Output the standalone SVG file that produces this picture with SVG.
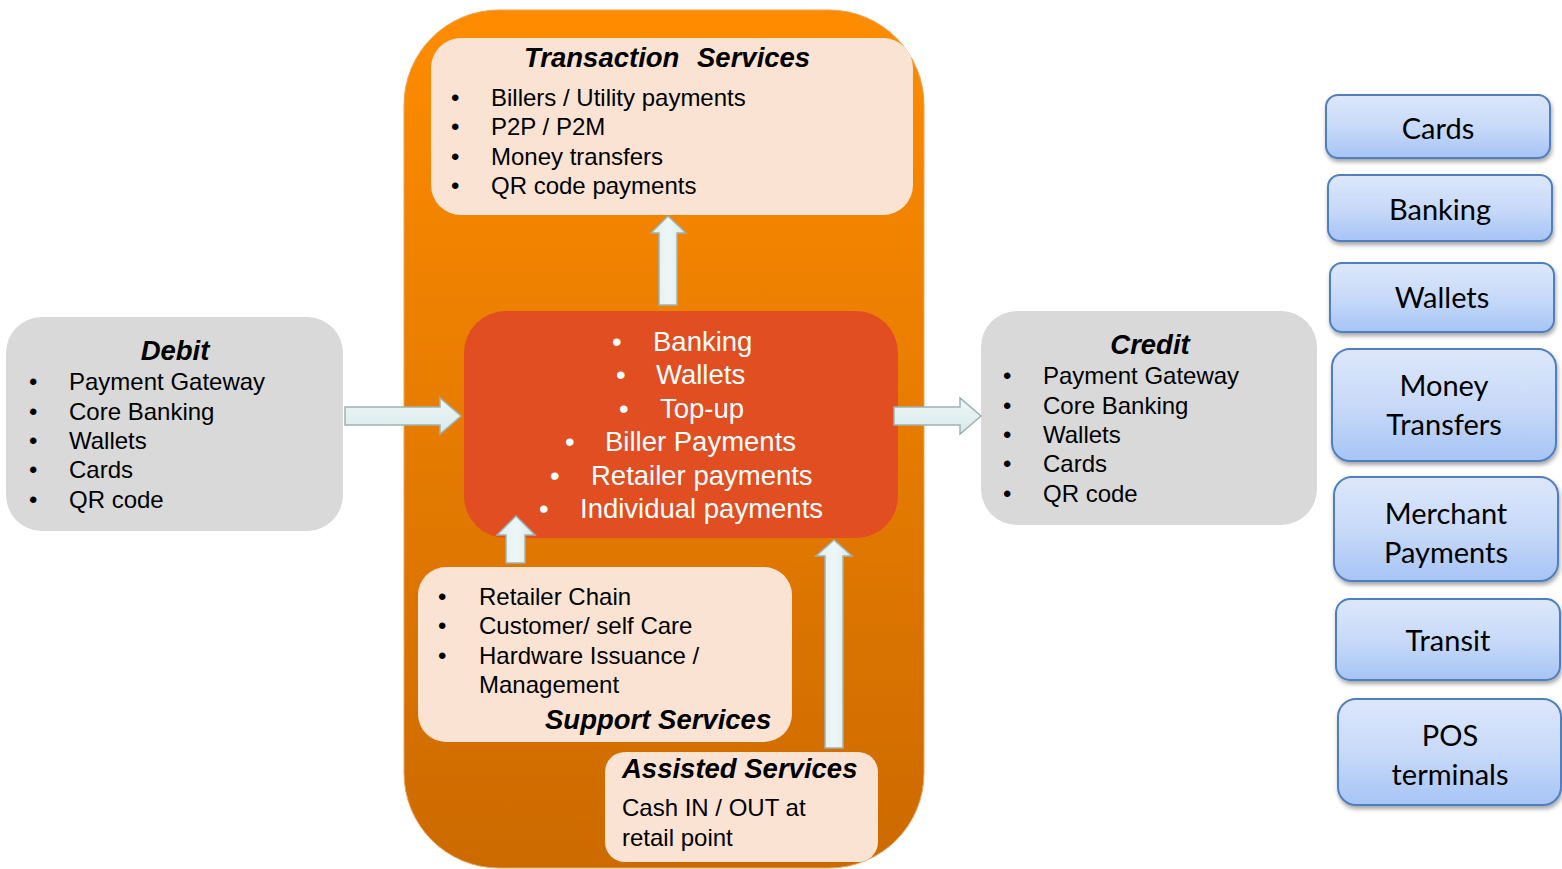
<svg xmlns="http://www.w3.org/2000/svg" width="1562" height="869" viewBox="0 0 1562 869">
<defs>
<linearGradient id="og" x1="0" y1="0" x2="0" y2="1"><stop offset="0" stop-color="#FF8C00"/><stop offset="1" stop-color="#CC6A00"/></linearGradient>
<linearGradient id="bg" x1="0" y1="0" x2="0" y2="1"><stop offset="0" stop-color="#DDE7FB"/><stop offset="0.5" stop-color="#C8DAF8"/><stop offset="1" stop-color="#A6C4F5"/></linearGradient>
<linearGradient id="ag" x1="0" y1="0" x2="1" y2="0"><stop offset="0" stop-color="#DDEEEE"/><stop offset="0.5" stop-color="#EEF7F7"/><stop offset="1" stop-color="#D8EAEA"/></linearGradient>
<linearGradient id="agv" x1="0" y1="0" x2="0" y2="1"><stop offset="0" stop-color="#EEF7F7"/><stop offset="1" stop-color="#D8EAEA"/></linearGradient>
<filter id="sh" x="-10%" y="-10%" width="120%" height="130%"><feDropShadow dx="1" dy="3" stdDeviation="2" flood-color="#000" flood-opacity="0.35"/></filter>
</defs>
<style>
.t{font-family:"Liberation Sans",Arial,sans-serif;font-size:24px;fill:#000}
.h{font-family:"Liberation Sans",Arial,sans-serif;font-size:27.5px;font-weight:bold;font-style:italic;fill:#000}
.w{font-family:"Liberation Sans",Arial,sans-serif;font-size:27.5px;fill:#fff}
.b{font-family:Lato,"Open Sans",sans-serif;font-size:29px;fill:#000;text-anchor:middle}
.peach{fill:#FAE3D3}
.gray{fill:#D9D9D9}
.blue{fill:url(#bg);stroke:#4F7FBF;stroke-width:2;filter:url(#sh)}
.arr{fill:url(#ag);stroke:#9FB2B3;stroke-width:1.5}
.arrv{fill:url(#agv);stroke:#9FB2B3;stroke-width:1.5}
</style>

<g id="platform">
<rect x="404" y="10" width="520" height="858" rx="95" ry="95" fill="url(#og)" stroke="#E9A560" stroke-width="1"/>
</g>

<g id="transaction">
<rect class="peach" x="431" y="38" width="482" height="177" rx="30"/>
<text class="h" x="524" y="67">Transaction</text>
<text class="h" x="697" y="67">Services</text>
<text class="t" x="451" y="106">•</text><text class="t" x="491" y="106">Billers / Utility payments</text>
<text class="t" x="451" y="135">•</text><text class="t" x="491" y="135">P2P / P2M</text>
<text class="t" x="451" y="165">•</text><text class="t" x="491" y="165">Money transfers</text>
<text class="t" x="451" y="194">•</text><text class="t" x="491" y="194">QR code payments</text>
</g>

<g id="core">
<rect x="464" y="311" width="434" height="227" rx="42" fill="#E04E22"/>
<text class="w" x="612" y="351">•</text><text class="w" x="653" y="351">Banking</text>
<text class="w" x="616" y="384">•</text><text class="w" x="656" y="384">Wallets</text>
<text class="w" x="619" y="418">•</text><text class="w" x="660" y="418">Top-up</text>
<text class="w" x="565" y="451">•</text><text class="w" x="605" y="451">Biller Payments</text>
<text class="w" x="550" y="485">•</text><text class="w" x="591" y="485">Retailer payments</text>
<text class="w" x="539" y="518">•</text><text class="w" x="580" y="518">Individual payments</text>
</g>

<g id="support">
<rect class="peach" x="418" y="567" width="374" height="175" rx="28"/>
<text class="t" x="438" y="605">•</text><text class="t" x="479" y="605">Retailer Chain</text>
<text class="t" x="438" y="634">•</text><text class="t" x="479" y="634">Customer/ self  Care</text>
<text class="t" x="438" y="664">•</text><text class="t" x="479" y="664">Hardware Issuance /</text>
<text class="t" x="479" y="693">Management</text>
<text class="h" x="545" y="729">Support Services</text>
</g>

<g id="assisted">
<rect class="peach" x="605" y="752" width="273" height="110" rx="20"/>
<text class="h" x="622" y="778">Assisted Services</text>
<text class="t" x="622" y="816">Cash IN / OUT at</text>
<text class="t" x="622" y="846">retail point</text>
</g>

<g id="debit">
<rect class="gray" x="6" y="317" width="337" height="214" rx="36"/>
<text class="h" x="175" y="360" text-anchor="middle">Debit</text>
<text class="t" x="29" y="390">•</text><text class="t" x="69" y="390">Payment Gateway</text>
<text class="t" x="29" y="420">•</text><text class="t" x="69" y="420">Core Banking</text>
<text class="t" x="29" y="449">•</text><text class="t" x="69" y="449">Wallets</text>
<text class="t" x="29" y="478">•</text><text class="t" x="69" y="478">Cards</text>
<text class="t" x="29" y="508">•</text><text class="t" x="69" y="508">QR code</text>
</g>

<g id="credit">
<rect class="gray" x="981" y="311" width="336" height="214" rx="36"/>
<text class="h" x="1150" y="354" text-anchor="middle">Credit</text>
<text class="t" x="1003" y="384">•</text><text class="t" x="1043" y="384">Payment Gateway</text>
<text class="t" x="1003" y="414">•</text><text class="t" x="1043" y="414">Core Banking</text>
<text class="t" x="1003" y="443">•</text><text class="t" x="1043" y="443">Wallets</text>
<text class="t" x="1003" y="472">•</text><text class="t" x="1043" y="472">Cards</text>
<text class="t" x="1003" y="502">•</text><text class="t" x="1043" y="502">QR code</text>
</g>

<g id="cards"><rect class="blue" x="1326" y="95" width="224" height="63" rx="12"/><text class="b" x="1438" y="139">Cards</text></g>
<g id="banking"><rect class="blue" x="1328" y="175" width="224" height="66" rx="12"/><text class="b" x="1440" y="220">Banking</text></g>
<g id="wallets"><rect class="blue" x="1330" y="263" width="224" height="69" rx="12"/><text class="b" x="1442" y="308">Wallets</text></g>
<g id="money"><rect class="blue" x="1332" y="349" width="224" height="112" rx="18"/><text class="b" x="1444" y="396">Money</text><text class="b" x="1444" y="435">Transfers</text></g>
<g id="merchant"><rect class="blue" x="1334" y="477" width="224" height="104" rx="18"/><text class="b" x="1446" y="524">Merchant</text><text class="b" x="1446" y="563">Payments</text></g>
<g id="transit"><rect class="blue" x="1336" y="599" width="224" height="81" rx="14"/><text class="b" x="1448" y="651">Transit</text></g>
<g id="pos"><rect class="blue" x="1338" y="699" width="223" height="106" rx="18"/><text class="b" x="1450" y="746">POS</text><text class="b" x="1450" y="785">terminals</text></g>

<g id="connectors">
<path class="arr" d="M659,305 L659,233 L651,233 L668,216 L686,233 L677,233 L677,305 Z"/>
<path class="arrv" d="M345,407 L440,407 L440,398 L461,416 L440,434 L440,425 L345,425 Z"/>
<path class="arrv" d="M894,407 L960,407 L960,398 L981,416 L960,434 L960,425 L894,425 Z"/>
<path class="arr" d="M506,563 L506,535 L497,535 L516,516 L535,535 L525,535 L525,563 Z"/>
<path class="arr" d="M825,748 L825,556 L816,556 L834,540 L852,556 L843,556 L843,748 Z"/>
</g>
</svg>
